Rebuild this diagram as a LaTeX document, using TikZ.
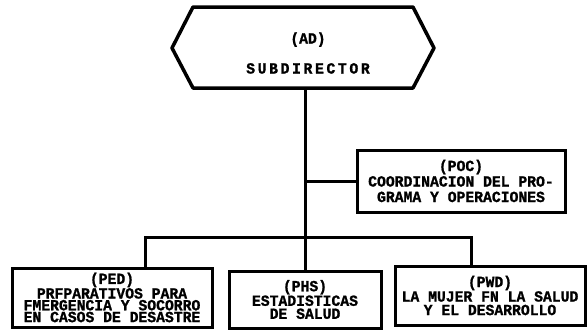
\documentclass[tikz,border=0pt]{standalone}
\usepackage{fontspec}
\setmonofont[FakeStretch=0.95, FakeBold=1.2]{Liberation Mono}
\begin{document}
\begin{tikzpicture}[x=1pt,y=-1pt,
  unit/.style={draw=black, line width=3pt, align=center, inner sep=0pt,
    font=\ttfamily\bfseries\fontsize{15.5}{15.5}\selectfont},
  wire/.style={draw=black, line width=3pt, line cap=rect}]
  \useasboundingbox (0,0) rectangle (587,330);

  % head office, drawn as a hexagon around the text
  \node[align=center, inner sep=0pt,
    font=\ttfamily\bfseries\fontsize{15.5}{30}\selectfont] (ad) at (308,53)
    {(AD)\\{\addfontfeature{LetterSpace=17}SUBDIRECTOR}};
  \draw[line width=3.5pt, line join=round]
    ([shift={(-115,-46)}]ad.center) -- ([shift={(105,-46)}]ad.center)
    -- ([shift={(126,-5)}]ad.center) -- ([shift={(105,35)}]ad.center)
    -- ([shift={(-115,35)}]ad.center) -- ([shift={(-136,-5)}]ad.center) -- cycle;
  \coordinate (adb) at ([shift={(-3,35)}]ad.center);

  % staff unit
  \node[unit, minimum width=208pt, minimum height=62pt] (poc) at (461,181)
    {(POC)\\COORDINACION DEL PRO-\\GRAMA Y OPERACIONES};

  % programme units
  \node[unit, minimum width=200pt, minimum height=59pt,
    font=\ttfamily\bfseries\fontsize{15.5}{11.8}\selectfont] (ped) at (112,297.5)
    {(PED)\\PRFPARATIVOS PARA\\FMERGENCIA Y SOCORRO\\EN CASOS DE DESASTRE};
  \node[unit, minimum width=152pt, minimum height=57pt,
    font=\ttfamily\bfseries\fontsize{15.5}{13}\selectfont] (phs) at (305,299.5)
    {(PHS)\\ESTADISTICAS\\DE SALUD};
  \node[unit, minimum width=190pt, minimum height=59pt,
    font=\ttfamily\bfseries\fontsize{15.5}{13.5}\selectfont] (pwd) at (490,295.5)
    {(PWD)\\LA MUJER FN LA SALUD\\Y EL DESARROLLO};

  % connectors
  \coordinate (bus) at (305,237);
  \draw[wire] (adb) -- (phs.north);
  \draw[wire] (poc.west) -- (poc.west -| adb);
  \draw[wire] ([xshift=33pt]ped.north) |- (bus) -| ([xshift=-19pt]pwd.north);
\end{tikzpicture}
\end{document}
